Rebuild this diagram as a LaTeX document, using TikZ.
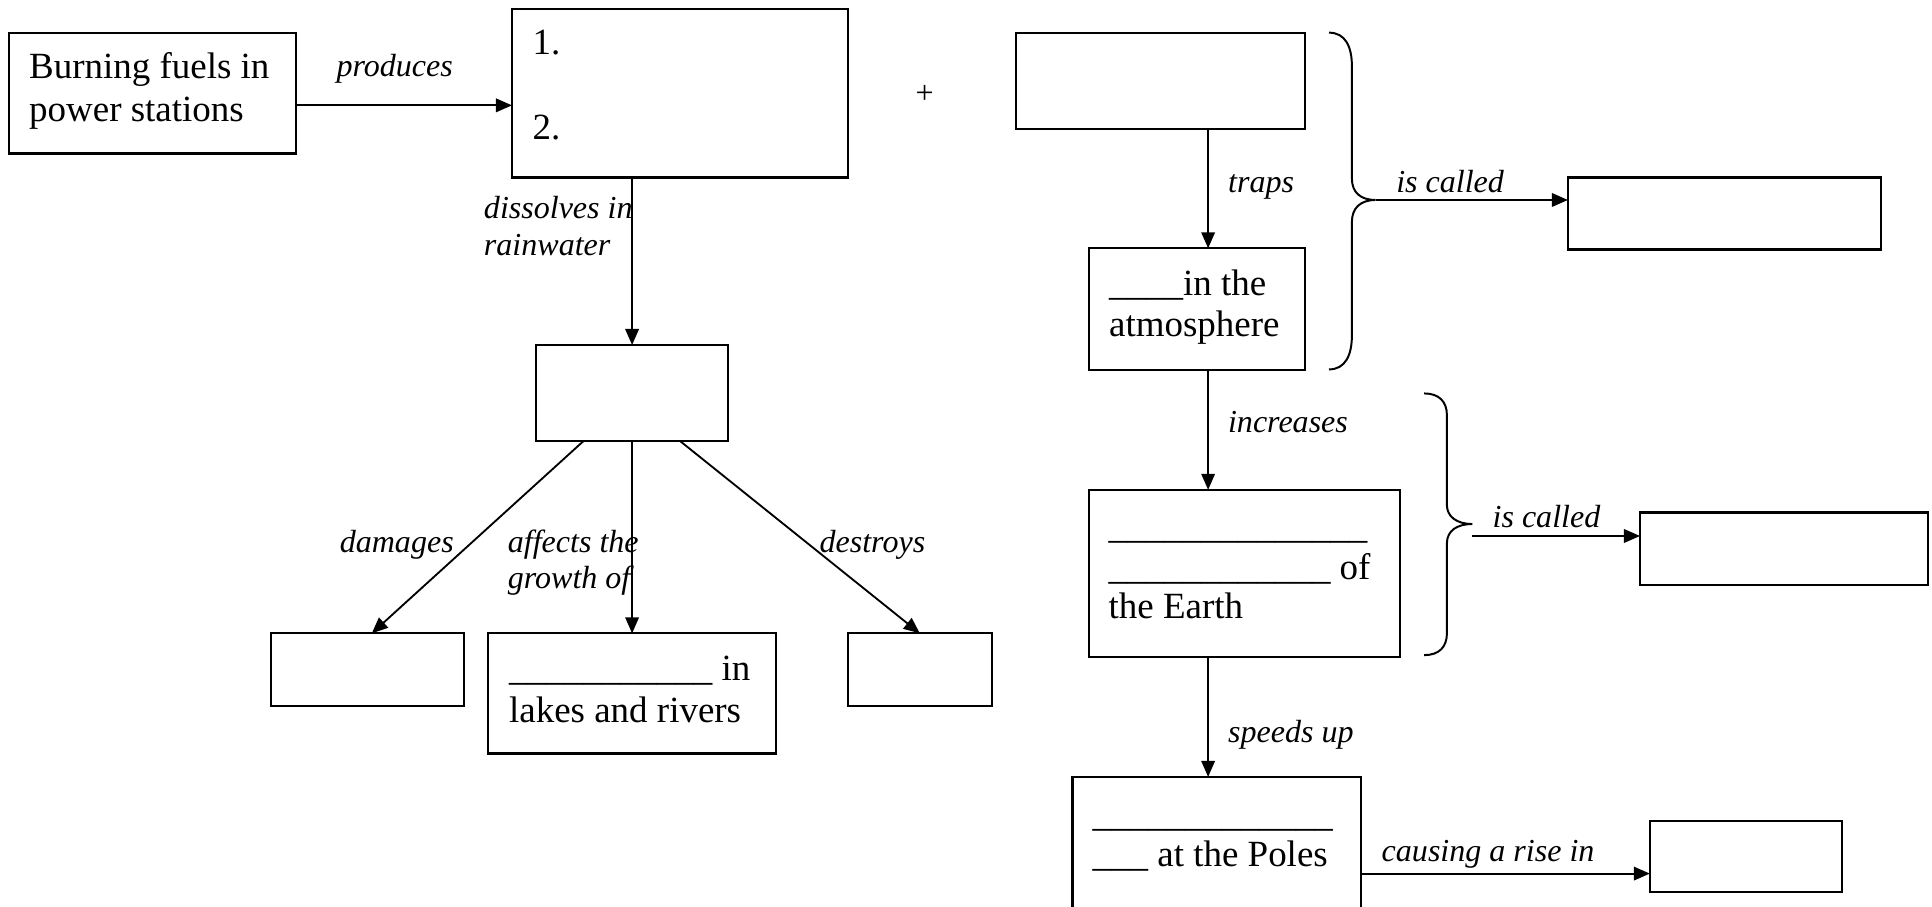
\documentclass[tikz,border=0pt]{standalone}
\usepackage{fontspec}
\setmainfont{Liberation Serif}
\usetikzlibrary{arrows.meta,calc}

\tikzset{
  box/.style={draw, line width=1.8pt, inner sep=0pt, outer sep=0pt, anchor=north west},
  arr/.style={line width=1.5pt, -{Triangle[length=13pt,width=11pt]}},
  brc/.style={line width=1.6pt},
  txt/.style={inner sep=0pt, anchor=base west, font=\fontsize{30}{34}\selectfont},
  lbl/.style={inner sep=0pt, anchor=base west, font=\fontsize{26}{30}\selectfont\itshape}
}

\begin{document}
\begin{tikzpicture}[x=1pt, y=-1pt]
\clip (0,0) rectangle (1568,736);
\fill[white] (0,0) rectangle (1568,736);

% boxes
\node[box, minimum width=233pt,   minimum height=97.5pt]  (burn)    at (7,27) {};
\node[box, minimum width=273pt,   minimum height=136.5pt] (prod)    at (415.5,7.5) {};
\node[box, minimum width=156pt,   minimum height=78pt]    (acid)    at (435,280) {};
\node[box, minimum width=156.5pt, minimum height=59pt]    (dmg)     at (220,514) {};
\node[box, minimum width=234pt,   minimum height=97.5pt]  (lakes)   at (396,514) {};
\node[box, minimum width=117pt,   minimum height=59pt]    (dest)    at (688,514) {};
\node[box, minimum width=234.5pt, minimum height=78.5pt]  (gas)     at (824.5,26.5) {};
\node[box, minimum width=175.5pt, minimum height=98.5pt]  (atm)     at (883.5,201.5) {};
\node[box, minimum width=254pt,   minimum height=58.5pt]  (called1) at (1272.5,144) {};
\node[box, minimum width=253pt,   minimum height=135.5pt] (earth)   at (883.5,397.5) {};
\node[box, minimum width=234pt,   minimum height=58.5pt]  (called2) at (1331,416) {};
\node[box, minimum width=234pt,   minimum height=200pt]   (poles)   at (870.5,630.5) {};
\node[box, minimum width=156pt,   minimum height=58pt]    (rise)    at (1339,666) {};

% box texts
\node[txt] (t-burn1) at (23.5,63.5) {Burning fuels in};
\node[txt] (t-burn2) at (23.5,98.8) {power stations};
\node[txt] (t-one)   at (432,44.6) {1.};
\node[txt] (t-two)   at (432,113.6) {2.};
\node[txt] (t-lake1) at (413,552) {\_\_\_\_\_\_\_\_\_\_\_ in};
\node[txt] (t-lake2) at (413,586) {lakes and rivers};
\node[txt] (t-atm1)  at (900,239.5) {\_\_\_\_in the};
\node[txt] (t-atm2)  at (900,273.3) {atmosphere};
\node[txt] (t-ear1)  at (899.6,437) {\_\_\_\_\_\_\_\_\_\_\_\_\_\_};
\node[txt] (t-ear2)  at (899.6,470.2) {\_\_\_\_\_\_\_\_\_\_\_\_ of};
\node[txt] (t-ear3)  at (899.6,502) {the Earth};
\node[txt] (t-pol1)  at (886.6,671) {\_\_\_\_\_\_\_\_\_\_\_\_\_};
\node[txt] (t-pol2)  at (886.6,703) {\_\_\_ at the Poles};

% plus sign between the two groups
\node[inner sep=0pt, font=\fontsize{26}{30}\selectfont] (plus) at (750.5,76.6) {+};

% connectors
\coordinate (prody) at ($(burn.east)+(0,9.75)$);
\draw[arr] (prody) -- (prody -| prod.west);
\draw[arr] (acid.north |- prod.south) -- (acid.north);
\draw[arr] ($(acid.south)+(-39.5,0)$) -- ($(dmg.north)+(3.5,0)$);
\draw[arr] (acid.south) -- (lakes.north);
\draw[arr] ($(acid.south)+(39,0)$) -- (dest.north);

\coordinate (spine) at (980.5,0);
\draw[arr] (spine |- gas.south) -- (spine |- atm.north);
\draw[arr] (spine |- atm.south) -- (spine |- earth.north);
\draw[arr] (spine |- earth.south) -- (spine |- poles.north);

\coordinate (causey) at ($(rise.west)+(0,14)$);
\draw[arr] (causey -| poles.east) -- (causey);

% braces
\coordinate (tip1) at (1116.4,162.3);
\draw[brc] (1078.6,26.5) .. controls (1092,26.5) and (1097.2,38) .. (1097.2,54)
  -- (1097.2,145) .. controls (1097.2,156) and (1104,162.3) .. (tip1)
  .. controls (1104,162.3) and (1097.2,169) .. (1097.2,180)
  -- (1097.2,272) .. controls (1097.2,288) and (1092,299.8) .. (1078.6,299.8);
\draw[arr] (tip1) -- (tip1 -| called1.west);

\coordinate (tip2) at (1195,425.3);
\draw[brc] (1155.8,319.3) .. controls (1168,319.3) and (1174.3,326) .. (1174.3,337)
  -- (1174.3,410) .. controls (1174.3,419) and (1182,425.3) .. (tip2)
  .. controls (1182,425.3) and (1174.3,431) .. (1174.3,441)
  -- (1174.3,514) .. controls (1174.3,525) and (1168,531.7) .. (1155.8,531.7);
\coordinate (call2y) at (1195,435);
\draw[arr] (call2y) -- (call2y -| called2.west);

% connector labels
\node[lbl] (l-prod)  at (273,61.7) {produces};
\node[lbl] (l-diss1) at (392.6,177.2) {dissolves in};
\node[lbl] (l-diss2) at (392.6,207) {rainwater};
\node[lbl] (l-dmg)   at (275.6,448) {damages};
\node[lbl] (l-aff1)  at (412,448) {affects the};
\node[lbl] (l-aff2)  at (412,477.5) {growth of};
\node[lbl] (l-dest)  at (665,448) {destroys};
\node[lbl] (l-trap)  at (996.6,156.4) {traps};
\node[lbl] (l-call1) at (1133,156.4) {is called};
\node[lbl] (l-inc)   at (996.5,351) {increases};
\node[lbl] (l-call2) at (1211.2,428) {is called};
\node[lbl] (l-speed) at (996.5,603) {speeds up};
\node[lbl] (l-cause) at (1121.2,699) {causing a rise in};
\end{tikzpicture}
\end{document}
